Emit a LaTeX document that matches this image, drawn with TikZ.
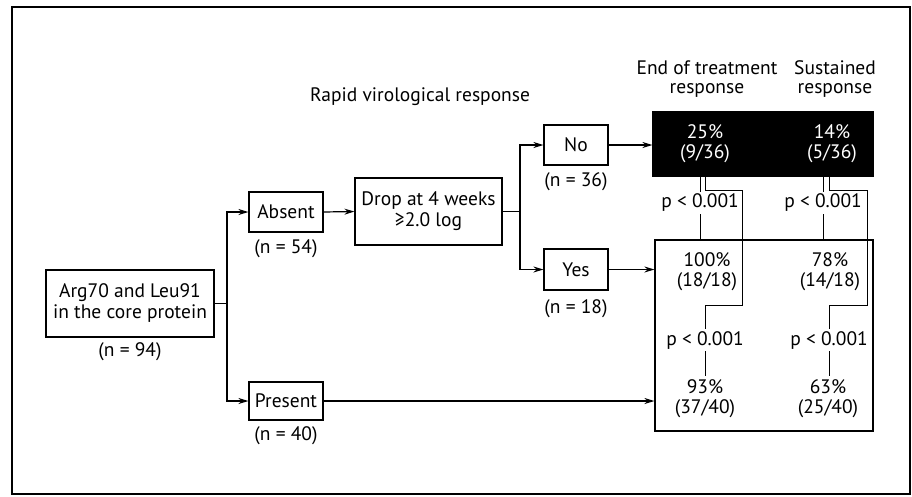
\documentclass[tikz,border=0pt]{standalone}
\usepackage{fontspec}
\setmainfont{PT Sans}
\usetikzlibrary{arrows.meta,positioning,calc}
\tikzset{
  flow box/.style={draw,line width=1.2pt,align=center,font=\fontsize{19.5}{21}\selectfont,inner sep=1pt},
  black box/.style={draw,fill=black,line width=1.2pt,minimum width=220pt,minimum height=64pt},
  result box/.style={draw,line width=1.2pt,minimum width=218pt,minimum height=191pt},
  count label/.style={font=\fontsize{19.5}{21}\selectfont,inner sep=1pt},
  head label/.style={align=center,font=\fontsize{19.5}{19}\selectfont},
  result text/.style={align=center,font=\fontsize{19.5}{20}\selectfont},
  pval/.style={font=\fontsize{19.5}{20}\selectfont,inner sep=2pt},
  flow arrow/.style={-{Stealth[length=10pt,width=6pt]},line width=1.2pt},
  flow line/.style={line width=1pt}
}

\begin{document}
\begin{tikzpicture}[x=1pt,y=-1pt]
    \useasboundingbox (0,0) rectangle (912,496);
    \draw[line width=1.4pt] (12,7) rectangle (910,494);
    % headings
    \node[head label] (rvr) at (420,97) {Rapid virological response};
    \node[head label] (eot) at (707,79) {End of treatment\\response};
    \node[head label] (sus) at (835,79) {Sustained\\response};
    % tree
    \node[flow box,minimum width=168pt,minimum height=67pt] (arg) at (130,303.5) {Arg70 and Leu91\\in the core protein};
    \node[count label,below=4pt of arg] (n94) {(n = 94)};
    \node[flow box,minimum width=74pt,minimum height=40pt] (absent) at (286,212) {Absent};
    \node[count label,below=6pt of absent] (n54) {(n = 54)};
    \node[flow box,minimum width=74pt,minimum height=38pt] (present) at (286,401) {Present};
    \node[count label,below=5pt of present] (n40) {(n = 40)};
    \node[flow box,minimum width=147pt,minimum height=67pt] (drop) at (428.5,211.5) {Drop at 4 weeks\\≥2.0 log};
    \node[flow box,minimum width=64pt,minimum height=40pt] (no) at (576,145) {No};
    \node[count label,below=6pt of no] (n36) {(n = 36)};
    \node[flow box,minimum width=64pt,minimum height=41pt] (yes) at (576,269.5) {Yes};
    \node[count label,below=8pt of yes] (n18) {(n = 18)};
    % outcome boxes
    \node[black box] (nonrvr) at (763,144) {};
    \node[result box] (rvrbox) at (764,335.5) {};
    \node[result text,text=white] (e25) at (705,144) {25\%\\(9/36)};
    \node[result text,text=white] (s14) at (832,144) {14\%\\(5/36)};
    \node[result text] (e100) at (707,271.5) {100\%\\(18/18)};
    \node[result text] (s78) at (830,271.5) {78\%\\(14/18)};
    \node[result text] (e93) at (705,398.5) {93\%\\(37/40)};
    \node[result text] (s63) at (828,398.5) {63\%\\(25/40)};
    \node[pval] (pa) at (700,203) {p < 0.001};
    \node[pval] (pb) at (823,203) {p < 0.001};
    \node[pval] (pc) at (705,340) {p < 0.001};
    \node[pval] (pd) at (829,340) {p < 0.001};
    \coordinate (split1) at (227,303.5);
    \coordinate (split2) at (520,211.5);
    % connectors
    \draw[line width=1.2pt] (arg.east) -- (split1);
    \draw[flow arrow] (split1) |- (absent.west);
    \draw[flow arrow] (split1) |- (present.west);
    \draw[flow arrow] (absent.east) -- (drop.west);
    \draw[line width=1.2pt] (drop.east) -- (split2);
    \draw[flow arrow] (split2) |- (no.west);
    \draw[flow arrow] (split2) |- (yes.west);
    \draw[flow arrow] (no.east) -- (no.east -| nonrvr.west);
    \draw[flow arrow] (yes.east) -- (yes.east -| rvrbox.west);
    \draw[flow arrow] (present.east) -- (present.east -| rvrbox.west);
    % comparisons
    \draw[flow line] (pa.north |- nonrvr.south) -- (pa.north);
    \draw[flow line] (pa.south) -- (pa.south |- rvrbox.north);
    \draw[flow line] (pc.north |- nonrvr.south) |- ++(37,14) -- ++(0,115) -| (pc.north);
    \draw[flow line] (pc.south) -- (pc.south |- e93.north);
    \draw[flow line] (pb.north |- nonrvr.south) -- (pb.north);
    \draw[flow line] (pb.south) -- (pb.south |- rvrbox.north);
    \draw[flow line] (pd.north |- nonrvr.south) |- ++(38,14) -- ++(0,115) -| (pd.north);
    \draw[flow line] (pd.south) -- (pd.south |- s63.north);
\end{tikzpicture}
\end{document}
